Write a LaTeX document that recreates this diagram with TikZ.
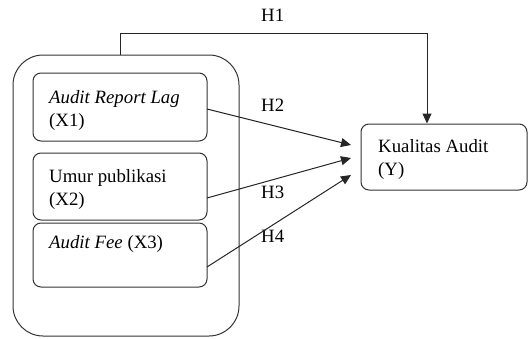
\documentclass[tikz,border=0pt]{standalone}
\usepackage{fontspec}
\setmainfont{Liberation Serif}
\usetikzlibrary{arrows.meta}
\begin{document}
\begin{tikzpicture}[x=1pt,y=-1pt,
  box/.style={draw=black!80,line width=1pt,rounded corners=8pt,inner sep=0pt},
  txt/.style={anchor=base west,inner sep=0pt,font=\fontsize{18.8}{23}\selectfont},
  conn/.style={draw=black!85,line width=1pt},
  arr/.style={conn,-{Triangle[length=10pt,width=9pt]}}]
\useasboundingbox (0,0) rectangle (528,338);
\node[box,rounded corners=30pt,minimum width=226pt,minimum height=281pt] (outer) at (126,195.5) {};
\node[box,minimum width=174pt,minimum height=68pt] (X1) at (120,107) {};
\node[box,minimum width=174pt,minimum height=67pt] (X2) at (120,186.5) {};
\node[box,minimum width=174pt,minimum height=64pt] (X3) at (120,255) {};
\node[box,minimum width=166pt,minimum height=66pt] (Y) at (444,157) {};
\node[txt] (t1a) at (49,103) {\textit{Audit Report Lag}};
\node[txt] (t1b) at (49,126) {(X1)};
\node[txt] (t2a) at (49,182) {Umur publikasi};
\node[txt] (t2b) at (49,205) {(X2)};
\node[txt] (t3) at (49,248) {\textit{Audit Fee} (X3)};
\node[txt] (ty1) at (378,152) {Kualitas Audit};
\node[txt] (ty2) at (378,175) {(Y)};
\node[txt] (h1) at (261,21) {H1};
\node[txt] (h2) at (261,111) {H2};
\node[txt] (h3) at (261,198) {H3};
\node[txt] (h4) at (261,242) {H4};
\coordinate (h1c) at (427,33);
\coordinate (s2) at (207,109);
\coordinate (s3) at (207,198);
\coordinate (s4) at (207,267);
\coordinate (e2) at (351,145);
\coordinate (e3) at (351,158);
\coordinate (e4) at (351,175);
\draw[arr] (outer.north -| X1.center) |- (h1c) -- (h1c |- Y.north);
\draw[arr] (s2) -- (e2);
\draw[arr] (s3) -- (e3);
\draw[arr] (s4) -- (e4);
\end{tikzpicture}
\end{document}
